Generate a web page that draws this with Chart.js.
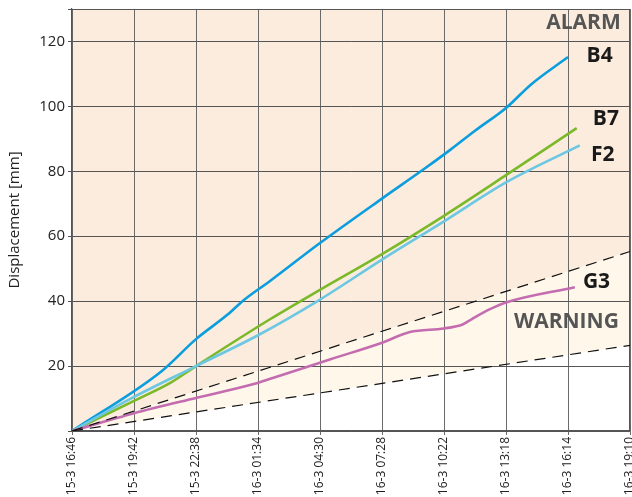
<!DOCTYPE html>
<html>
<head>
<meta charset="utf-8">
<script src="https://cdn.jsdelivr.net/npm/chart.js@4/dist/chart.umd.min.js"></script>
<style>
  html, body { margin: 0; padding: 0; background: #ffffff; }
  #wrap { width: 632px; height: 497px; }
</style>
</head>
<body>
<div id="wrap"><canvas id="c" width="632" height="497"></canvas></div>
<script>
// ---- Data (x = position on the time axis, in tick intervals from 15-3 16:46) ----
const timeLabels = ["15-3 16:46", "15-3 19:42", "15-3 22:38", "16-3 01:34", "16-3 04:30",
                    "16-3 07:28", "16-3 10:22", "16-3 13:18", "16-3 16:14", "16-3 19:10"];
const yTicks = [20, 40, 60, 80, 100, 120];

const b4X = [0, 1.45, 2.0, 2.5, 2.75, 3.2, 4.0, 5.0, 5.7, 6.1, 6.5, 7.0, 7.4, 8.0];
const b4Y = [0, 18.5, 28.3, 35.7, 40.0, 46.3, 57.9, 71.6, 81.0, 86.6, 92.5, 99.5, 106.7, 115.2];

const b7X = [0, 1.0, 1.6, 2.0, 3.2, 4.0, 5.0, 6.0, 7.0, 8.14];
const b7Y = [0, 9.3, 15.0, 20.0, 34.5, 43.5, 54.5, 66.3, 78.8, 93.3];

const f2X = [0, 1.0, 2.0, 3.0, 4.0, 5.0, 6.0, 7.0, 8.19];
const f2Y = [0, 10.5, 20.0, 29.5, 40.5, 52.8, 64.6, 76.6, 88.0];

const g3X = [0, 1.0, 2.0, 2.9, 3.25, 4.17, 5.0, 5.45, 6.0, 6.3, 6.45, 6.75, 7.0, 8.11];
const g3Y = [0, 5.5, 10.2, 14.3, 16.4, 22.1, 27.2, 30.5, 31.6, 32.8, 34.5, 37.6, 39.6, 44.3];

const alarmLineX = [0, 9];
const alarmLineY = [0, 55.3];
const warningLineX = [0, 9];
const warningLineY = [0, 26.4];

const annotText = ["ALARM", "B4", "B7", "F2", "G3", "WARNING"];
const annotX    = [8.85, 8.3, 8.4, 8.37, 8.24, 8.82];
const annotY    = [125.8, 115.6, 96.0, 85.0, 45.9, 33.5];

// ---- helpers ----
const pts = (xs, ys) => xs.map((x, i) => ({ x: x, y: ys[i] }));

const annotStyle = [
  { color: '#555555', align: 'right' },
  { color: '#1a1a1a', align: 'left' },
  { color: '#1a1a1a', align: 'left' },
  { color: '#1a1a1a', align: 'left' },
  { color: '#1a1a1a', align: 'left' },
  { color: '#555555', align: 'right' }
];

const annotPlugin = {
  id: 'annots',
  afterDatasetsDraw(chart) {
    const ctx = chart.ctx, sx = chart.scales.x, sy = chart.scales.y;
    ctx.save();
    ctx.font = 'bold 21px "Open Sans", sans-serif';
    ctx.textBaseline = 'middle';
    annotText.forEach((t, i) => {
      ctx.fillStyle = annotStyle[i].color;
      ctx.textAlign = annotStyle[i].align;
      ctx.fillText(t, sx.getPixelForValue(annotX[i]), sy.getPixelForValue(annotY[i]));
    });
    ctx.restore();
  }
};

const framePlugin = {
  id: 'frame',
  beforeDatasetsDraw(chart) {
    const { ctx, chartArea: a } = chart;
    ctx.save();
    ctx.strokeStyle = '#555555';
    ctx.lineWidth = 1;
    ctx.beginPath();
    ctx.moveTo(a.left, a.top + 0.5);
    ctx.lineTo(a.right, a.top + 0.5);
    ctx.moveTo(a.right - 0.5, a.top);
    ctx.lineTo(a.right - 0.5, a.bottom);
    ctx.stroke();
    ctx.restore();
  }
};

const lineDs = (label, data, color) => ({
  label, data, borderColor: color, backgroundColor: color, borderWidth: 2.6,
  pointRadius: 0, fill: false, tension: 0.2, cubicInterpolationMode: 'monotone'
});

new Chart(document.getElementById('c'), {
  type: 'line',
  data: {
    datasets: [
      // lower dashed threshold: white below it
      { label: 'warning', data: pts(warningLineX, warningLineY), borderColor: '#111111', borderWidth: 1.2,
        borderDash: [11, 7], pointRadius: 0, fill: 'start', backgroundColor: '#ffffff' },
      // upper dashed threshold: cream below it (warning band)
      { label: 'alarm', data: pts(alarmLineX, alarmLineY), borderColor: '#111111', borderWidth: 1.2,
        borderDash: [11, 7], pointRadius: 0, fill: 'start', backgroundColor: '#fff8ea' },
      // same threshold: peach above it (alarm zone)
      { label: 'alarmZone', data: pts(alarmLineX, alarmLineY), borderColor: 'rgba(0,0,0,0)', borderWidth: 0,
        pointRadius: 0, fill: 'end', backgroundColor: '#fcecdd' },
      lineDs('G3', pts(g3X, g3Y), '#c46cb0'),
      lineDs('F2', pts(f2X, f2Y), '#6cc7e3'),
      lineDs('B7', pts(b7X, b7Y), '#7bb92b'),
      lineDs('B4', pts(b4X, b4Y), '#0b9ddd')
    ]
  },
  options: {
    responsive: false,
    animation: false,
    layout: { padding: { top: 9, right: 2, left: 0, bottom: 0 } },
    plugins: {
      legend: { display: false },
      tooltip: { enabled: false },
      filler: { drawTime: 'beforeDraw' }
    },
    scales: {
      x: {
        type: 'linear', min: 0, max: 9,
        afterBuildTicks: (s) => { s.ticks = timeLabels.map((_, i) => ({ value: i })); },
        afterFit: (s) => { s.height = 66; s.paddingLeft = 0; s.paddingRight = 0; },
        ticks: {
          autoSkip: false, minRotation: 90, maxRotation: 90, padding: 2,
          color: '#222222', font: { family: '"Open Sans", sans-serif', size: 12 },
          callback: (v) => timeLabels[v] ?? ''
        },
        grid: { color: '#6a6a6a', lineWidth: 1, tickLength: 4 },
        border: { color: '#555555', width: 1.2 }
      },
      y: {
        type: 'linear', min: 0, max: 130,
        afterBuildTicks: (s) => { s.ticks = [0].concat(yTicks, [130]).map(v => ({ value: v })); },
        afterFit: (s) => { s.width = 72; s.paddingTop = 0; s.paddingBottom = 0; },
        ticks: {
          color: '#222222', font: { family: '"Open Sans", sans-serif', size: 15 }, padding: 3,
          callback: (v) => yTicks.includes(v) ? String(v) : ''
        },
        grid: { color: '#555555', lineWidth: 1, tickLength: 4 },
        border: { color: '#555555', width: 1.2 },
        title: { display: true, text: 'Displacement [mm]', color: '#222222',
                 font: { family: '"Open Sans", sans-serif', size: 15 }, padding: { top: 6, bottom: 0 } }
      }
    }
  },
  plugins: [annotPlugin, framePlugin]
});
</script>
</body>
</html>
